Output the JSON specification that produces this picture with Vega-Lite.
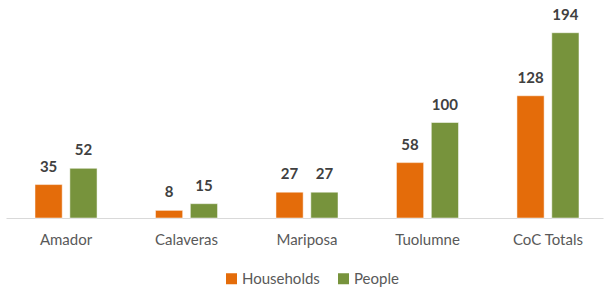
{
  "$schema": "https://vega.github.io/schema/vega-lite/v6.json",
  "autosize": "none",
  "width": 597,
  "height": 191,
  "padding": {"left": 6, "top": 27, "right": 2, "bottom": 73},
  "background": "white",
  "data": {"values": [
    {"county": "Amador", "series": "Households", "value": 35},
    {"county": "Amador", "series": "People", "value": 52},
    {"county": "Calaveras", "series": "Households", "value": 8},
    {"county": "Calaveras", "series": "People", "value": 15},
    {"county": "Mariposa", "series": "Households", "value": 27},
    {"county": "Mariposa", "series": "People", "value": 27},
    {"county": "Tuolumne", "series": "Households", "value": 58},
    {"county": "Tuolumne", "series": "People", "value": 100},
    {"county": "CoC Totals", "series": "Households", "value": 128},
    {"county": "CoC Totals", "series": "People", "value": 194}
  ]},
  "encoding": {
    "x": {"field": "county", "type": "nominal", "sort": null,
      "scale": {"paddingInner": 0.485, "paddingOuter": 0.22, "align": 0.547},
      "axis": {"title": null, "labelAngle": 0, "ticks": false, "domainColor": "#D9D9D9", "domainWidth": 1, "labelFontSize": 15, "labelColor": "#595959", "labelFont": "Lato", "labelPadding": 14}},
    "xOffset": {"field": "series", "type": "nominal", "scale": {"paddingInner": 0.22, "paddingOuter": 0}},
    "y": {"field": "value", "type": "quantitative", "scale": {"domain": [0, 200]}, "axis": null}
  },
  "layer": [
    {"mark": {"type": "bar", "stroke": "white", "strokeWidth": 0.5},
     "encoding": {
       "color": {"field": "series", "type": "nominal",
         "scale": {"domain": ["Households", "People"], "range": ["#E46C0A", "#77933C"]},
         "legend": {"title": null, "orient": "none", "direction": "horizontal", "legendX": 218, "legendY": 244, "symbolType": "square", "symbolSize": 121, "symbolStrokeWidth": 0, "labelFontSize": 15, "labelColor": "#595959", "labelFont": "Lato", "columnPadding": 16, "labelOffset": 3, "symbolOffset": 0}}
     }},
    {"mark": {"type": "text", "dy": -18, "fontSize": 15, "fontWeight": "bold", "font": "Lato", "color": "#404040"},
     "encoding": {"text": {"field": "value", "type": "quantitative"}}}
  ],
  "config": {"view": {"stroke": null}}
}
